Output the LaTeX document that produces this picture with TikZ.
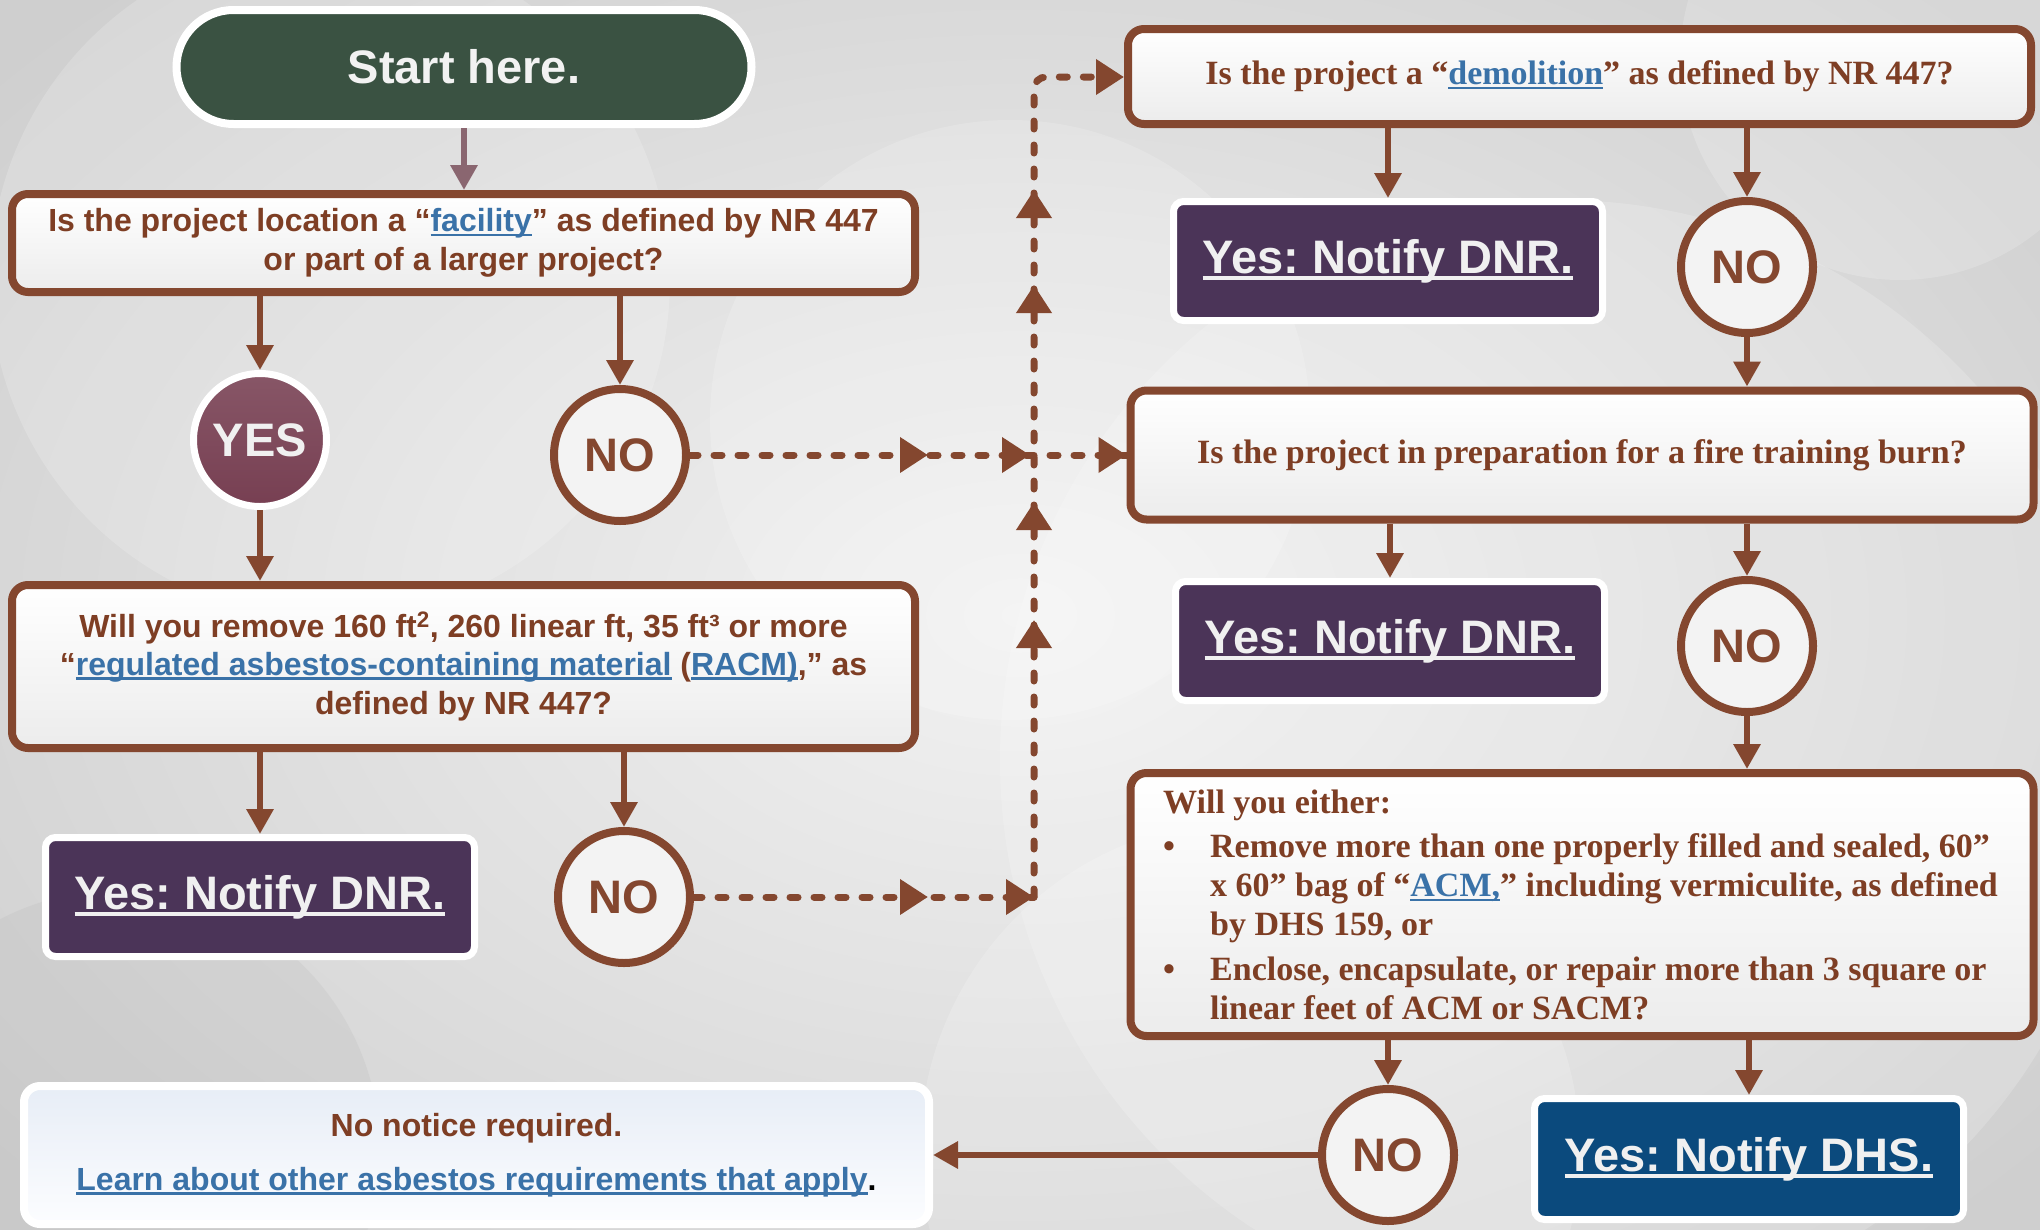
\documentclass[tikz,border=0pt]{standalone}
\usepackage{fontspec}
\setmainfont{Liberation Sans}
\newfontfamily\camfont{Liberation Serif}
\usetikzlibrary{arrows.meta,decorations.markings}
\frenchspacing
\definecolor{brn}{HTML}{84472F}
\definecolor{brntxt}{HTML}{7E3E24}
\definecolor{lnkblue}{HTML}{3A72A8}
\definecolor{startgreen}{HTML}{3A5242}
\definecolor{yesmaroon}{HTML}{773F52}
\definecolor{dnrpurple}{HTML}{4B3458}
\definecolor{dhsblue}{HTML}{0B4A7D}
\definecolor{circfill}{HTML}{F3F3F3}
\definecolor{qbot}{HTML}{ECECEC}
\definecolor{mauve}{HTML}{8A6670}
\definecolor{bgout}{HTML}{CFCFCF}
\definecolor{bgin}{HTML}{F2F2F2}
\definecolor{nntop}{HTML}{E7EDF6}
\definecolor{nnbot}{HTML}{FCFDFF}
\newcommand\lnk[1]{{\color{lnkblue}\setbox0\hbox{#1}\rlap{\rule[-0.13em]{\wd0}{0.08em}}\box0}}
\newcommand\wlnk[1]{{\setbox0\hbox{#1}\rlap{\rule[-0.14em]{\wd0}{0.075em}}\box0}}
\newcommand\sansq{\frenchspacing\bfseries\fontsize{32}{38.5}\selectfont}
\newcommand\biglab{\frenchspacing\bfseries\fontsize{47}{50}\selectfont}
\newcommand\serq{\frenchspacing\camfont\bfseries\fontsize{34}{39}\selectfont}
\tikzset{
  qbox/.style={draw=brn, line width=8pt, rounded corners=16pt, top color=white, bottom color=qbot,
    text=brntxt, align=center, inner sep=0pt, font=\sansq},
  sqbox/.style={qbox, font=\serq},
  nocirc/.style={circle, draw=brn, line width=8pt, fill=circfill, minimum size=132pt, inner sep=0pt,
    text=brn, font=\biglab},
  notify/.style={draw=white, line width=7pt, rounded corners=10pt, fill=dnrpurple, text=white!94!black,
    minimum width=429pt, minimum height=119pt, inner sep=0pt, font=\biglab},
  arr/.style={draw=brn, line width=6.5pt, -{Triangle[length=25pt,width=26pt]}},
  dotl/.style={draw=brn, line width=7pt, line cap=round, dash pattern=on 8pt off 16pt},
  tri/.tip={Triangle[length=28pt,width=34pt]},
}
\begin{document}
\begin{tikzpicture}[x=1pt,y=-1pt]
\useasboundingbox (0,0) rectangle (2040,1229);
% background
\shade[inner color=bgin, outer color=bgout] (-300,-250) rectangle (2340,1480);
\begin{scope}[opacity=0.18]
  \fill[white] (330,280) circle (340);
  \fill[white] (1010,420) circle (300);
  \fill[white] (1560,760) circle (560);
  \fill[white] (1250,1150) circle (330);
  \fill[gray!60] (120,1150) circle (260);
  \fill[white] (1900,60) circle (220);
\end{scope}
% nodes
\node[draw=white, line width=8pt, fill=startgreen, rounded corners=57pt, minimum width=575pt,
  minimum height=114pt, inner sep=0pt, text=white!95!black, font=\biglab] (start) at (464,67) {Start here.};
\node[qbox, minimum width=903pt, minimum height=98pt] (q1) at (463.5,243)
  {Is the project location a “\lnk{facility}” as defined by NR 447\\or part of a larger project?};
\node[circle, draw=white, line width=7pt, top color=yesmaroon!88!white, bottom color=yesmaroon,
  minimum size=133pt, inner sep=0pt, text=white!94!black, font=\biglab] (yes) at (260,440) {YES};
\node[nocirc] (no1) at (620,455) {NO};
\node[qbox, minimum width=903pt, minimum height=163pt] (q4) at (463.5,666.5)
  {Will you remove 160 ft\textsuperscript{2}, 260 linear ft, 35 ft³ or more\\
   “\lnk{regulated asbestos-containing material} (\lnk{RACM)},” as\\defined by NR 447?};
\node[notify] (dnr1) at (260,897) {\wlnk{Yes: Notify DNR.}};
\node[nocirc] (no3) at (624,897) {NO};
\node[draw=white, line width=8pt, rounded corners=16pt, top color=nntop, bottom color=nnbot,
  minimum width=905pt, minimum height=138pt, inner sep=0pt, align=center, text=brntxt, font=\sansq]
  (nonotice) at (476.5,1155)
  {No notice required.\\[16pt]\lnk{Learn about other asbestos requirements that apply}\textcolor{black}{.}};
\node[sqbox, minimum width=903pt, minimum height=95pt] (q2) at (1579.5,76.5)
  {Is the project a “\lnk{demolition}” as defined by NR 447?};
\node[notify] (dnr2) at (1388,261) {\wlnk{Yes: Notify DNR.}};
\node[nocirc] (no2) at (1747,267) {NO};
\node[sqbox, minimum width=903pt, minimum height=129pt] (q3) at (1582,455)
  {Is the project in preparation for a fire training burn?};
\node[notify] (dnr3) at (1390,641) {\wlnk{Yes: Notify DNR.}};
\node[nocirc] (no4) at (1747,646) {NO};
\node[qbox, minimum width=903pt, minimum height=263pt] (q5) at (1582,904.5) {};
\node[anchor=north west, inner sep=0pt, align=left, text=brntxt, font=\serq] (q5t) at (1163,790)
  {Will you either:\\[5pt]
   \makebox[47pt][l]{•}Remove more than one properly filled and sealed, 60”\\
   \hspace*{47pt}x 60” bag of “\lnk{ACM,}” including vermiculite, as defined\\
   \hspace*{47pt}by DHS 159, or\\[6pt]
   \makebox[47pt][l]{•}Enclose, encapsulate, or repair more than 3 square or\\
   \hspace*{47pt}linear feet of ACM or SACM?};
\node[nocirc] (no5) at (1388,1155) {NO};
\node[notify, fill=dhsblue, minimum height=121pt] (dhs) at (1749,1159) {\wlnk{Yes: Notify DHS.}};
% solid connectors
\draw[arr, draw=mauve, -{Triangle[length=25pt,width=26pt,fill=mauve]}] (start.south) -- (start.south |- q1.north);
\draw[arr] (q1.south -| yes.north) -- (yes.north);
\draw[arr] (q1.south -| no1.north) -- (no1.north);
\draw[arr] (yes.south) -- (yes.south |- q4.north);
\draw[arr] (q4.south -| dnr1.north) -- (dnr1.north);
\draw[arr] (q4.south -| no3.north) -- (no3.north);
\draw[arr] (q2.south -| dnr2.north) -- (dnr2.north);
\draw[arr] (q2.south -| no2.north) -- (no2.north);
\draw[arr] (no2.south) -- (no2.south |- q3.north);
\draw[arr] (q3.south -| dnr3.north) -- (dnr3.north);
\draw[arr] (q3.south -| no4.north) -- (no4.north);
\draw[arr] (no4.south) -- (no4.south |- q5.north);
\draw[arr] (q5.south -| no5.north) -- (no5.north);
\draw[arr] (q5.south -| dhs.north) -- (dhs.north);
\draw[arr] (no5.west) -- (no5.west -| nonotice.east);
% dotted connectors
\coordinate (j1) at (1034,897);
\coordinate (j2) at (1034,77);
\draw[dotl, postaction={decorate}, decoration={markings,
   mark=at position 238pt with {\arrow[brn]{tri}},
   mark=at position 340pt with {\arrow[brn]{tri}},
   mark=at position 1 with {\arrow[brn]{tri}}}]
  (no1.east) -- (no1.east -| q3.west);
\draw[dotl, postaction={decorate}, decoration={markings,
   mark=at position 234pt with {\arrow[brn]{tri}},
   mark=at position 1 with {\arrow[brn]{tri}}}]
  (no3.east) -- (j1);
\draw[dotl, rounded corners=12pt, postaction={decorate}, decoration={markings,
   mark=at position 277pt with {\arrow[brn]{tri}},
   mark=at position 395pt with {\arrow[brn]{tri}},
   mark=at position 612pt with {\arrow[brn]{tri}},
   mark=at position 707pt with {\arrow[brn]{tri}},
   mark=at position 1 with {\arrow[brn]{tri}}}]
  (j1) -- (j2) -- (j2 -| q2.west);
\end{tikzpicture}
\end{document}
